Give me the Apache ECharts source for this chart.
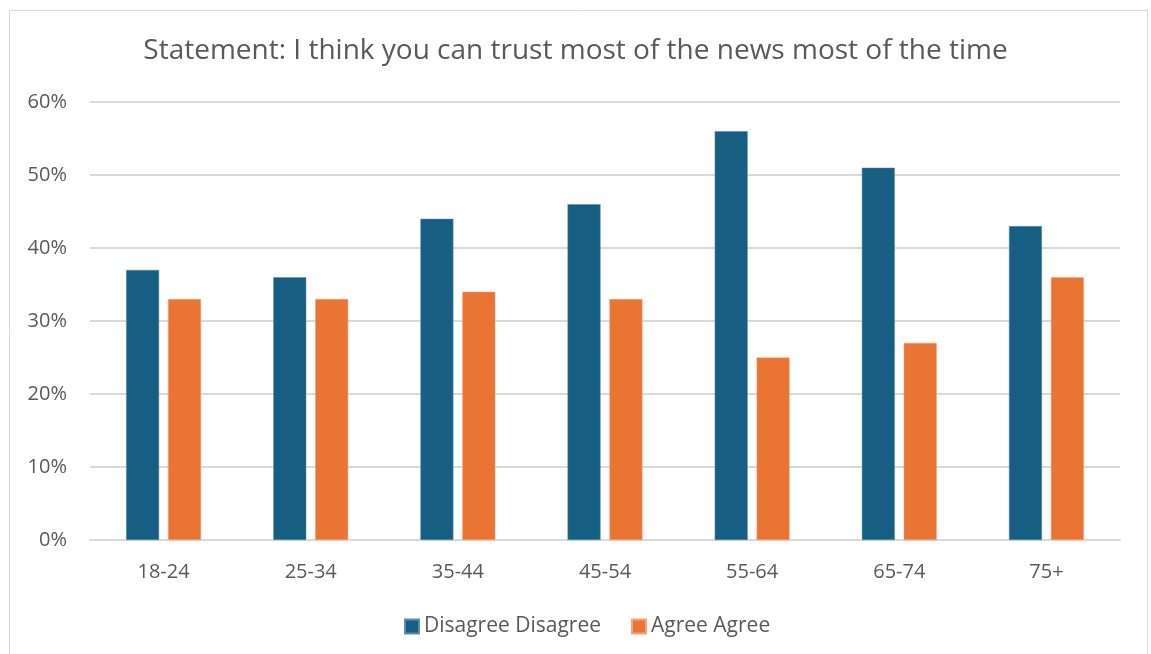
<!DOCTYPE html>
<html><head><meta charset="utf-8">
<script src="https://cdn.jsdelivr.net/npm/echarts@6/dist/echarts.min.js"></script>
<style>html,body{margin:0;padding:0;background:#fff}#c{width:1151px;height:654px}</style>
</head><body><div id="c"></div>
<script>
const categories = ['18-24','25-34','35-44','45-54','55-64','65-74','75+'];
const disagree = [37,36,44,46,56,51,43];
const agree = [33,33,34,33,25,27,36];
const yTicks = [0,10,20,30,40,50,60];
const chart = echarts.init(document.getElementById('c'));
const font = '"Open Sans", "Noto Sans", sans-serif';
chart.setOption({
  animation:false,
  backgroundColor:'#fff',
  graphic:[{type:'rect',shape:{x:9.5,y:10.5,width:1138,height:700},style:{fill:'none',stroke:'#d9d9d9',lineWidth:1}}],
  title:{text:'Statement: I think you can trust most of the news most of the time',left:'center',top:32,
    textStyle:{fontFamily:font,fontSize:28,fontWeight:'normal',color:'#595959'}},
  legend:{bottom:12,left:399,itemWidth:14,itemHeight:14,itemGap:30,icon:'rect',
    textStyle:{fontFamily:font,fontSize:21,color:'#595959'}},
  grid:{left:90,right:31,top:102,bottom:114},
  xAxis:{type:'category',data:categories,
    axisLine:{lineStyle:{color:'#d9d9d9',width:2}},axisTick:{show:false},
    axisLabel:{fontFamily:font,fontSize:20,color:'#595959',margin:22}},
  yAxis:{type:'value',min:yTicks[0],max:yTicks[yTicks.length-1],interval:10,
    axisLabel:{formatter:'{value}%',fontFamily:font,fontSize:20,color:'#595959',margin:23},
    splitLine:{lineStyle:{color:'#d9d9d9',width:2}},axisLine:{show:false}},
  series:[
    {name:'Disagree Disagree',type:'bar',data:disagree,barWidth:33,barGap:'27%',
      itemStyle:{color:'#175f82',borderColor:'#5b8fa8',borderWidth:0.5}},
    {name:'Agree Agree',type:'bar',data:agree,barWidth:33,
      itemStyle:{color:'#ea7433',borderColor:'#f2a57a',borderWidth:0.5}}
  ]
});
</script></body></html>
